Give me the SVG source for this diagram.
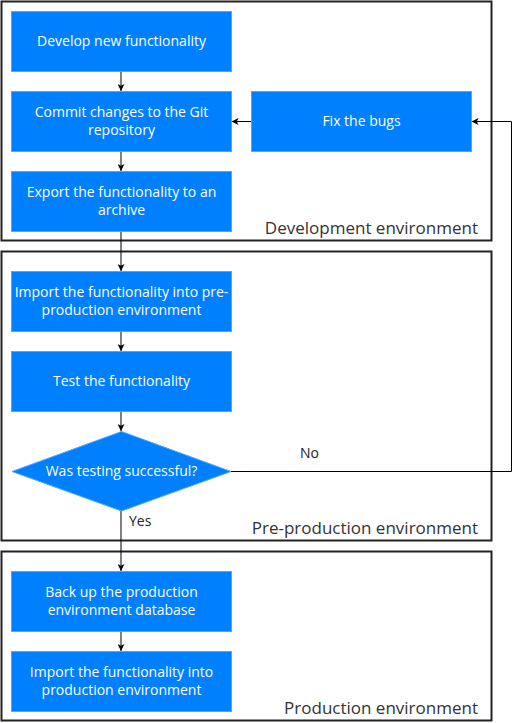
<svg xmlns="http://www.w3.org/2000/svg" width="519" height="723" viewBox="0 0 519 723">
<defs>
<style>
.env{fill:#ffffff;stroke:#222222;stroke-width:2}
.envlbl{font-family:"Open Sans","Liberation Sans",sans-serif;font-size:17px;fill:#333333;text-anchor:end}
.box{fill:#007fff;stroke:#4da6ff;stroke-width:1}
.t{font-family:"Open Sans","Liberation Sans",sans-serif;font-size:14px;fill:#ffffff;text-anchor:middle}
.edge{fill:none;stroke:#000000;stroke-width:1}
.elbl{font-family:"Open Sans","Liberation Sans",sans-serif;font-size:14px;fill:#222222}
</style>
<marker id="arr" viewBox="0 0 10 10" refX="10" refY="5" markerWidth="7" markerHeight="7" orient="auto" markerUnits="userSpaceOnUse">
<path d="M0,0 L10,5 L0,10 L2.5,5 Z" fill="#000000"/>
</marker>
</defs>
<rect width="519" height="723" fill="#ffffff"/>
<g id="env-dev">
<rect class="env" x="1.5" y="1.5" width="490" height="239"/>
<text class="envlbl" x="478" y="234">Development environment</text>
</g>
<g id="env-preprod">
<rect class="env" x="1.5" y="251.5" width="490" height="289"/>
<text class="envlbl" x="478" y="534">Pre-production environment</text>
</g>
<g id="env-prod">
<rect class="env" x="1.5" y="551.5" width="490" height="169"/>
<text class="envlbl" x="478" y="714">Production environment</text>
</g>
<g id="connectors">
<path class="edge" d="M121,71.5 L121,91" marker-end="url(#arr)"/>
<path class="edge" d="M121,151.5 L121,171" marker-end="url(#arr)"/>
<path class="edge" d="M121,231.5 L121,271" marker-end="url(#arr)"/>
<path class="edge" d="M121,331.5 L121,351" marker-end="url(#arr)"/>
<path class="edge" d="M121,411.5 L121,431" marker-end="url(#arr)"/>
<path class="edge" d="M121,511 L121,571" marker-end="url(#arr)"/>
<path class="edge" d="M121,631.5 L121,651" marker-end="url(#arr)"/>
<path class="edge" d="M251,121.5 L231.5,121.5" marker-end="url(#arr)"/>
<path class="edge" d="M231,471.5 L511.5,471.5 L511.5,121.5 L471.5,121.5" marker-end="url(#arr)"/>
<text class="elbl" x="300" y="458">No</text>
<text class="elbl" x="129" y="526">Yes</text>
</g>
<g id="develop">
<rect class="box" x="11.5" y="11.5" width="220" height="60"/>
<text class="t" x="121.5" y="45.5">Develop new functionality</text>
</g>
<g id="commit">
<rect class="box" x="11.5" y="91.5" width="220" height="60"/>
<text class="t" x="121.5" y="117">Commit changes to the Git</text>
<text class="t" x="121.5" y="135">repository</text>
</g>
<g id="fix">
<rect class="box" x="251.5" y="91.5" width="220" height="60"/>
<text class="t" x="361.5" y="125.5">Fix the bugs</text>
</g>
<g id="export">
<rect class="box" x="11.5" y="171.5" width="220" height="60"/>
<text class="t" x="121.5" y="197">Export the functionality to an</text>
<text class="t" x="121.5" y="215">archive</text>
</g>
<g id="import-pre">
<rect class="box" x="11.5" y="271.5" width="220" height="60"/>
<text class="t" x="121.5" y="297">Import the functionality into pre-</text>
<text class="t" x="121.5" y="315">production environment</text>
</g>
<g id="test">
<rect class="box" x="11.5" y="351.5" width="220" height="60"/>
<text class="t" x="121.5" y="385.5">Test the functionality</text>
</g>
<g id="decision">
<path class="box" d="M121.5,431.5 L231,471.5 L121.5,511 L12,471.5 Z" stroke="#007fff"/>
<text class="t" x="121.5" y="475.5">Was testing successful?</text>
</g>
<g id="backup">
<rect class="box" x="11.5" y="571.5" width="220" height="60"/>
<text class="t" x="121.5" y="597">Back up the production</text>
<text class="t" x="121.5" y="615">environment database</text>
</g>
<g id="import-prod">
<rect class="box" x="11.5" y="651.5" width="220" height="60"/>
<text class="t" x="121.5" y="677">Import the functionality into</text>
<text class="t" x="121.5" y="695">production environment</text>
</g>
</svg>
